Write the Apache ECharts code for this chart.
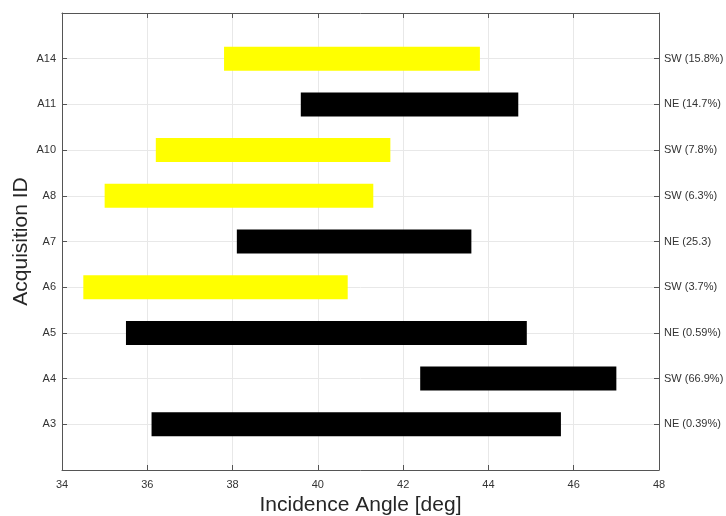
<!DOCTYPE html>
<html>
<head>
<meta charset="utf-8">
<script src="https://cdn.jsdelivr.net/npm/echarts@6/dist/echarts.min.js"></script>
<style>html,body{margin:0;padding:0;background:#fff}#c{width:726px;height:516px}</style>
</head>
<body>
<div id="c"></div>
<script>
const categories = ['', 'A3', 'A4', 'A5', 'A6', 'A7', 'A8', 'A10', 'A11', 'A14', ''];
const rightLabels = ['', 'NE (0.39%)', 'SW (66.9%)', 'NE (0.59%)', 'SW (3.7%)', 'NE (25.3)', 'SW (6.3%)', 'SW (7.8%)', 'NE (14.7%)', 'SW (15.8%)', ''];
const barGroup = [null, 'black', 'black', 'black', 'yellow', 'black', 'yellow', 'yellow', 'black', 'yellow', null];
const startAngle = [null, 36.1, 42.4, 35.5, 34.5, 38.1, 35.0, 36.2, 39.6, 37.8, null];
const endAngle = [null, 45.7, 47.0, 44.9, 40.7, 43.6, 41.3, 41.7, 44.7, 43.8, null];
const xTicks = { min: 34, max: 48, interval: 2 };

const colorFor = g => g === 'yellow' ? '#ffff00' : '#000000';
const baseData = startAngle.map(v => v == null ? '-' : v);
const lenData = startAngle.map((s, i) => s == null ? '-' : {
  value: +(endAngle[i] - s).toFixed(2),
  itemStyle: { color: colorFor(barGroup[i]) }
});

const font = "'Liberation Sans', Arial, sans-serif";
const axisLine = { show: true, lineStyle: { color: '#555', width: 1 } };
const tickStyle = { show: true, inside: true, length: 5, lineStyle: { color: '#555' } };
const split = { show: true, lineStyle: { color: '#e8e8e8', width: 1 } };

const chart = echarts.init(document.getElementById('c'));
chart.setOption({
  animation: false,
  textStyle: { fontFamily: font },
  grid: { left: 62, right: 67, top: 13, bottom: 46, outerBoundsMode: 'none', containLabel: false },
  xAxis: [{
    type: 'value', min: xTicks.min, max: xTicks.max, interval: xTicks.interval, position: 'bottom',
    axisLine, axisTick: tickStyle, splitLine: split,
    axisLabel: { color: '#333', fontSize: 11, margin: 9, fontFamily: font },
    name: 'Incidence Angle [deg]', nameLocation: 'middle', nameGap: 25,
    nameTextStyle: { fontSize: 21, color: '#262626', fontFamily: font }
  }, {
    type: 'value', min: xTicks.min, max: xTicks.max, interval: xTicks.interval, position: 'top',
    axisLine, axisTick: tickStyle, splitLine: { show: false }, axisLabel: { show: false }
  }],
  yAxis: [{
    type: 'category', data: categories, boundaryGap: false, position: 'left',
    axisLine, axisTick: tickStyle, splitLine: split,
    axisLabel: { color: '#333', fontSize: 11, margin: 6, fontFamily: font },
    name: 'Acquisition ID', nameLocation: 'middle', nameGap: 30, nameMoveOverlap: false,
    nameTextStyle: { fontSize: 21, color: '#262626', fontFamily: font }
  }, {
    type: 'category', data: rightLabels, boundaryGap: false, position: 'right',
    axisLine, axisTick: tickStyle, splitLine: { show: false },
    axisLabel: { color: '#333', fontSize: 11, margin: 5, fontFamily: font }
  }],
  series: [{
    type: 'bar', stack: 'r', data: baseData, barWidth: 24,
    itemStyle: { color: 'transparent' }, silent: true
  }, {
    type: 'bar', stack: 'r', data: lenData, barWidth: 24
  }]
});
</script>
</body>
</html>
